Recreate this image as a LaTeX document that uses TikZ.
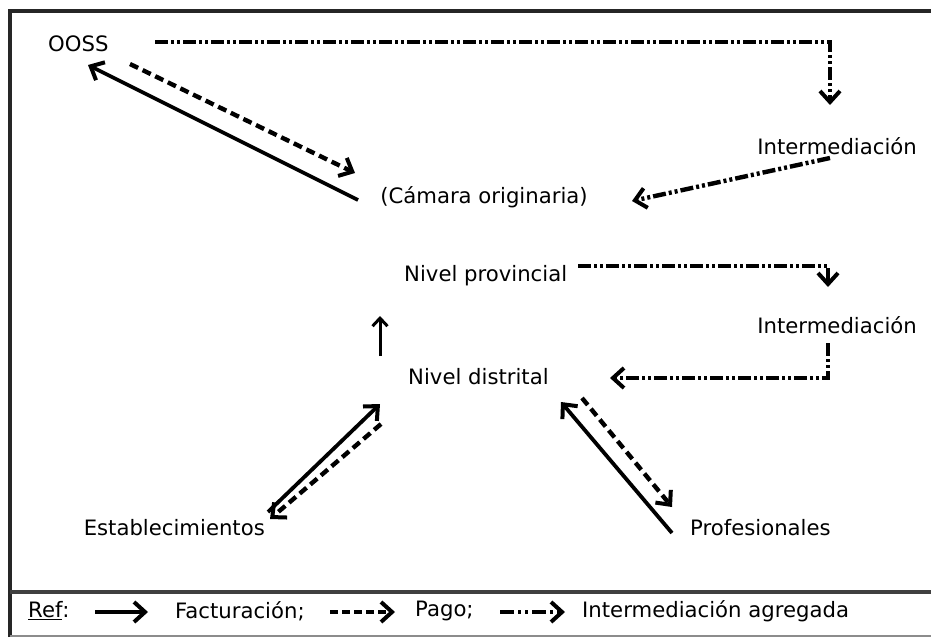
\documentclass[tikz,border=0pt]{standalone}
\usepackage{fontspec}
\setmainfont{DejaVu Sans}
\usetikzlibrary{arrows.meta}
\begin{document}
\begin{tikzpicture}[x=1pt,y=-1pt,
  lbl/.style={inner sep=0pt,font=\fontsize{21.2}{25}\selectfont},
  tip/.style={-{Straight Barb[length=11pt,width=20pt,line width=4pt]}},
  fact/.style={line width=3.8pt,tip},
  pago/.style={line width=4.4pt,dash pattern=on 9pt off 5pt,tip},
  inter/.style={line width=4.4pt,dash pattern=on 13pt off 3pt on 3pt off 3pt on 3pt off 3pt,tip},
  frame/.style={line width=4pt,draw=black!85}]
\path[use as bounding box] (0,0) rectangle (931,637);
% frame
\draw[frame] (10,637) -- (10,11) -- (931,11);
\draw[line width=3.5pt,draw=black!75] (10,592) -- (931,592);
\draw[line width=2.5pt,draw=black!45] (10,636) -- (931,636);
% nodes
\node[lbl,anchor=west] (ooss) at (48,44) {OOSS};
\node[lbl,anchor=east] (int1) at (917,146) {Intermediación};
\node[lbl] (cam) at (484,197) {(Cámara originaria)};
\node[lbl,anchor=west] (prov) at (404,276) {Nivel provincial};
\node[lbl,anchor=east] (int2) at (917,325) {Intermediación};
\node[lbl,anchor=west] (dist) at (408,377) {Nivel distrital};
\node[lbl,anchor=east] (est) at (265,528) {Establecimientos};
\node[lbl,anchor=west] (prof) at (690,528) {Profesionales};
% coordinates
\coordinate (a1) at (155,42);
\coordinate (a2) at (830,42);
\coordinate (a3) at (830,105);
\coordinate (b1) at (358,200);
\coordinate (b2) at (88,65);
\coordinate (c1) at (130,64);
\coordinate (c2) at (355,173);
\coordinate (d1) at (830,158);
\coordinate (d2) at (632,201);
\coordinate (e1) at (578,266);
\coordinate (e2) at (828,266);
\coordinate (e3) at (828,287);
\coordinate (f1) at (380,356);
\coordinate (f2) at (380,316);
\coordinate (g1) at (828,343);
\coordinate (g2) at (828,378);
\coordinate (g3) at (610,378);
\coordinate (h1) at (268,512);
\coordinate (h2) at (380,404);
\coordinate (i1) at (381,424);
\coordinate (i2) at (270,519);
\coordinate (j1) at (672,533);
\coordinate (j2) at (561,402);
\coordinate (k1) at (582,398);
\coordinate (k2) at (672,507);
% connectors
\draw[inter] (a1) -- (a2) -- (a3);
\draw[fact] (b1) -- (b2);
\draw[pago] (c1) -- (c2);
\draw[inter] (d1) -- (d2);
\draw[inter] (e1) -- (e2) -- (e3);
\draw[line width=3pt,-{Straight Barb[length=8pt,width=15pt,line width=3pt]}] (f1) -- (f2);
\draw[inter] (g1) -- (g2) -- (g3);
\draw[fact] (h1) -- (h2);
\draw[pago] (i1) -- (i2);
\draw[fact] (j1) -- (j2);
\draw[pago] (k1) -- (k2);
% legend
\node[lbl,anchor=west] (ref) at (28,611) {\underline{Ref}:};
\coordinate (l1) at (95,612);
\coordinate (l2) at (148,612);
\draw[fact,line width=4.6pt] (l1) -- (l2);
\node[lbl,anchor=west] (lf) at (175,611) {Facturación;};
\coordinate (m1) at (330,612);
\coordinate (m2) at (395,612);
\draw[line width=4.6pt,dash pattern=on 8pt off 4pt,tip] (m1) -- (m2);
\node[lbl,anchor=west] (lp) at (415,611) {Pago;};
\coordinate (n1) at (500,612);
\coordinate (n2) at (565,612);
\draw[line width=4.6pt,dash pattern=on 14pt off 4pt on 3pt off 4pt on 3pt off 4pt,tip] (n1) -- (n2);
\node[lbl,anchor=west] (li) at (582,611) {Intermediación agregada};
\end{tikzpicture}
\end{document}
